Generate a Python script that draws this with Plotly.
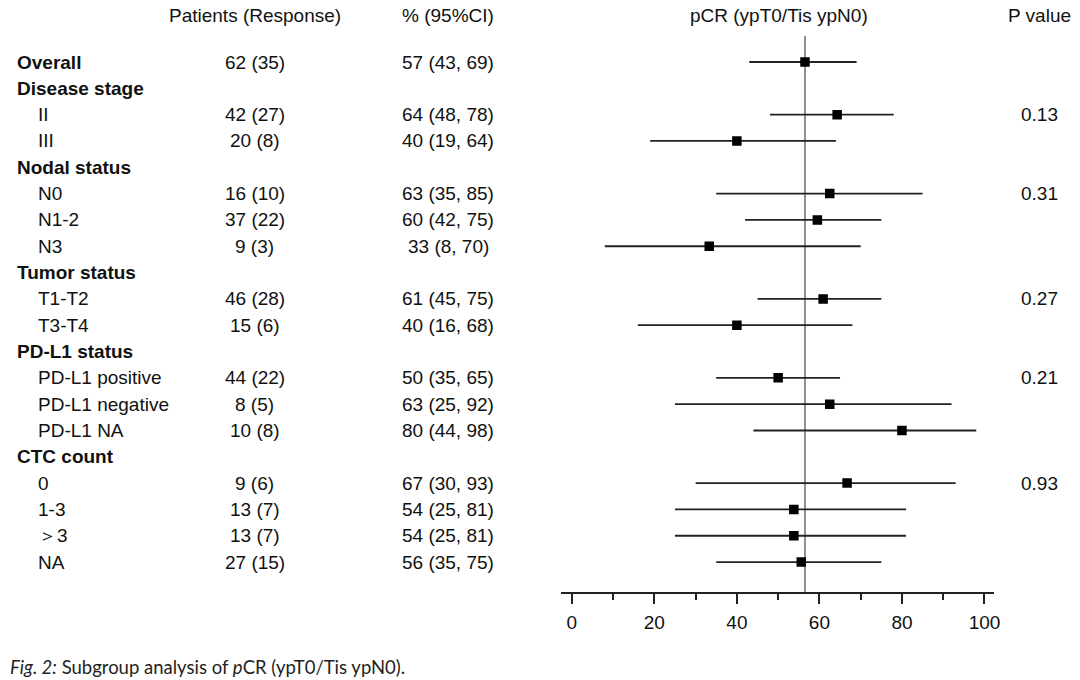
import plotly.graph_objects as go

# rows from top to bottom: headers have no data
labels = ["Overall", "Disease stage", "II", "III", "Nodal status", "N0", "N1-2", "N3",
          "Tumor status", "T1-T2", "T3-T4", "PD-L1 status", "PD-L1 positive",
          "PD-L1 negative", "PD-L1 NA", "CTC count", "0", "1-3", "＞3", "NA"]
is_header = [True, True, False, False, True, False, False, False,
             True, False, False, True, False, False, False, True, False, False, False, False]
patients = ["62 (35)", "", "42 (27)", "20 (8)", "", "16 (10)", "37 (22)", "9 (3)",
            "", "46 (28)", "15 (6)", "", "44 (22)", "8 (5)", "10 (8)", "", "9 (6)",
            "13 (7)", "13 (7)", "27 (15)"]
pct_ci = ["57 (43, 69)", "", "64 (48, 78)", "40 (19, 64)", "", "63 (35, 85)", "60 (42, 75)",
          "33 (8, 70)", "", "61 (45, 75)", "40 (16, 68)", "", "50 (35, 65)", "63 (25, 92)",
          "80 (44, 98)", "", "67 (30, 93)", "54 (25, 81)", "54 (25, 81)", "56 (35, 75)"]
est = [56.5, None, 64.3, 40.0, None, 62.5, 59.5, 33.3, None, 60.9, 40.0, None,
       50.0, 62.5, 80.0, None, 66.7, 53.8, 53.8, 55.6]
ci_low = [43, None, 48, 19, None, 35, 42, 8, None, 45, 16, None, 35, 25, 44, None, 30, 25, 25, 35]
ci_high = [69, None, 78, 64, None, 85, 75, 70, None, 75, 68, None, 65, 92, 98, None, 93, 81, 81, 75]
p_values = ["", "", "0.13", "", "", "0.31", "", "", "", "0.27", "", "", "0.21", "", "",
            "", "0.93", "", "", ""]
overall_ref = 56.5

W, H = 1080, 680
FONT = "Liberation Sans, Arial, sans-serif"
FS = 19
TXT = "#111111"

# column centres / left edges in pixels
X_HEAD, X_SUB = 15, 36
X_PAT, X_PCT, X_PCR, X_P = 256, 451, 783, 1045


def px_x(p):
    return p / W


def px_y(p):
    return 1 - p / H


rows = [i for i, e in enumerate(est) if e is not None]
xs = [est[i] for i in rows]
plus = [ci_high[i] - est[i] for i in rows]
minus = [est[i] - ci_low[i] for i in rows]

fig = go.Figure()
fig.add_trace(go.Scatter(
    x=xs, y=rows, mode="markers",
    marker=dict(symbol="square", size=9.5, color="black"),
    error_x=dict(type="data", symmetric=False, array=plus, arrayminus=minus,
                 width=0, thickness=1.8, color="#222222"),
    hoverinfo="skip", showlegend=False,
))

# reference line at overall estimate
fig.add_shape(type="line", x0=overall_ref, x1=overall_ref, xref="x",
              y0=0, y1=1, yref="y domain",
              line=dict(color="#858585", width=1.8), layer="below")

ann = []
for i, lab in enumerate(labels):
    if is_header[i]:
        ann.append(dict(x=px_x(X_HEAD), y=i, text="<b>%s</b>" % lab, xanchor="left"))
    else:
        ann.append(dict(x=px_x(X_SUB), y=i, text=lab, xanchor="left"))
    if patients[i]:
        ann.append(dict(x=px_x(X_PAT), y=i, text=patients[i], xanchor="center"))
    if pct_ci[i]:
        ann.append(dict(x=px_x(X_PCT), y=i, text=pct_ci[i], xanchor="center"))
    if p_values[i]:
        ann.append(dict(x=px_x(X_P), y=i, text=p_values[i], xanchor="center"))
for a in ann:
    a.update(xref="paper", yref="y", yanchor="middle", showarrow=False,
             font=dict(family=FONT, size=FS, color=TXT))

headers = [("Patients (Response)", X_PAT), ("% (95%CI)", X_PCT),
           ("pCR (ypT0/Tis ypN0)", X_PCR), ("P value", X_P)]
for txt, xp in headers:
    ann.append(dict(x=px_x(xp), y=px_y(15), xref="paper", yref="paper", text=txt,
                    xanchor="center", yanchor="middle", showarrow=False,
                    font=dict(family=FONT, size=FS, color=TXT)))

ann.append(dict(x=px_x(8), y=px_y(667), xref="paper", yref="paper",
                text="<i>Fig. 2:</i> Subgroup analysis of <i>p</i>CR (ypT0/Tis ypN0).",
                xanchor="left", yanchor="middle", showarrow=False,
                font=dict(family="Lato, Open Sans, sans-serif", size=18.5, color="#231f20")))

# pixel mapping: 0 -> 575 px, 100 -> 990 px; axis line 564..1000
scale = (990 - 575) / 100
x_lo = -(575 - 564) / scale
x_hi = 100 + (1000 - 990) / scale
# rows: row 0 at 62 px, spacing 26.32 px; plot area 36..592 px
step = 26.32
y_top = -(62 - 36) / step
y_bot = (592 - 62) / step

fig.update_layout(
    width=W, height=H,
    margin=dict(l=0, r=0, t=0, b=0),
    paper_bgcolor="white", plot_bgcolor="white",
    annotations=ann,
    xaxis=dict(domain=[564 / W, 1000 / W], range=[x_lo, x_hi],
               tickmode="linear", tick0=0, dtick=20,
               ticks="outside", ticklen=10, tickwidth=1.8, tickcolor="#222222",
               showline=True, linecolor="#222222", linewidth=1.8,
               showgrid=False, zeroline=False, ticklabelstandoff=2,
               minor=dict(tickmode="linear", tick0=0, dtick=10, ticks="outside",
                          ticklen=6, tickwidth=1.8, tickcolor="#222222", showgrid=False),
               tickfont=dict(family=FONT, size=FS, color=TXT)),
    yaxis=dict(domain=[1 - 592 / H, 1 - 36 / H], range=[y_bot, y_top],
               visible=False, showgrid=False, zeroline=False),
)

fig.write_html("out.html", config={"displayModeBar": False},
               post_script="document.body.style.margin='0';")
